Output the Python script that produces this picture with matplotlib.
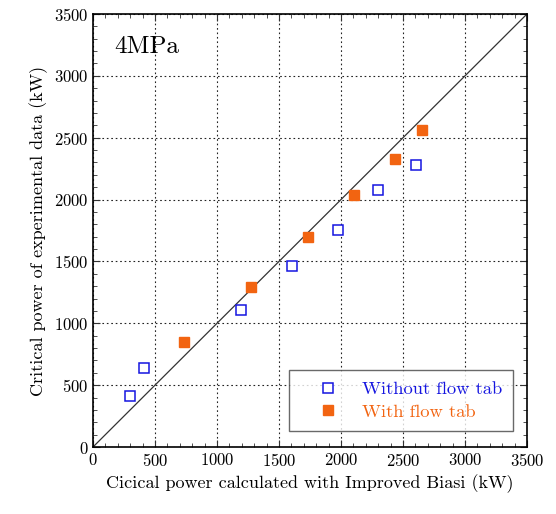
import matplotlib.pyplot as plt
from matplotlib.ticker import MultipleLocator

plt.rcParams['font.family'] = ['cmr10', 'DejaVu Serif']
plt.rcParams['axes.formatter.use_mathtext'] = True
plt.rcParams['mathtext.fontset'] = 'cm'

# calculated (x) vs experimental (y) critical power, kW
x_without = [296, 411, 1190, 1603, 1977, 2296, 2605]
y_without = [410, 639, 1106, 1464, 1755, 2077, 2276]
x_with = [731, 1276, 1736, 2104, 2432, 2655]
y_with = [850, 1292, 1699, 2038, 2330, 2564]

blue = '#1515e0'
orange = '#f26411'

fig = plt.figure(figsize=(5.56, 5.14), dpi=100)
ax = fig.add_axes([93 / 556, 1 - 447 / 514, 434 / 556, 433 / 514])

ax.plot([0, 3500], [0, 3500], color='#333333', lw=0.9, zorder=2)
ax.plot(x_without, y_without, 's', ms=6.6, mfc='white', mec=blue, mew=1.1,
        ls='none', label='Without flow tab', zorder=3)
ax.plot(x_with, y_with, 's', ms=7, color=orange, ls='none',
        label='With flow tab', zorder=3)

ax.set_xlim(0, 3500)
ax.set_ylim(0, 3500)
ax.xaxis.set_major_locator(MultipleLocator(500))
ax.yaxis.set_major_locator(MultipleLocator(500))
ax.xaxis.set_minor_locator(MultipleLocator(100))
ax.yaxis.set_minor_locator(MultipleLocator(100))
ax.tick_params(which='both', direction='in', top=True, right=True,
               labelsize=12, color='#333333')
ax.tick_params(which='major', length=5)
ax.tick_params(which='minor', length=3)
ax.grid(True, which='major', ls=(0, (1.5, 2.5)), color='#222222', lw=0.8)
for s in ax.spines.values():
    s.set_linewidth(1.2)

ax.set_xlabel('Cicical power calculated with Improved Biasi (kW)', fontsize=13)
ax.set_ylabel('Critical power of experimental data (kW)', fontsize=13)
ax.text(0.05, 0.925, '4MPa', transform=ax.transAxes, fontsize=18,
        va='center', ha='left')

leg = ax.legend(loc='lower right', bbox_to_anchor=(0.968, 0.037),
                borderaxespad=0, fontsize=13.3, frameon=True, fancybox=False,
                edgecolor='#444444', borderpad=0.6, handletextpad=0.35,
                handlelength=3.0, labelspacing=0.35)
leg.get_frame().set_linewidth(1.0)
leg.texts[0].set_color(blue)
leg.texts[1].set_color(orange)

fig.savefig('out.png', dpi=100)
